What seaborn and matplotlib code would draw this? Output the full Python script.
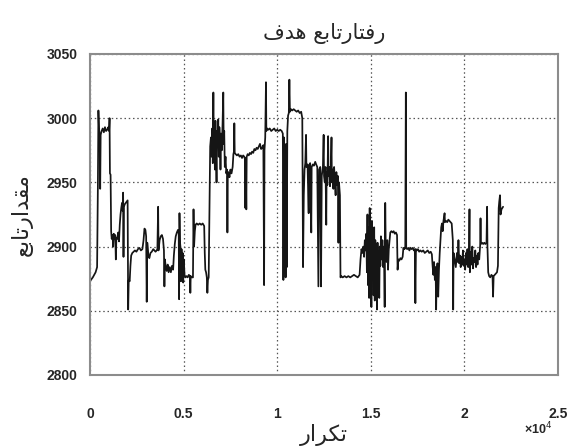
import matplotlib
matplotlib.use("Agg")
import matplotlib.pyplot as plt
import seaborn as sns
import pandas as pd

# objective value per iteration
iterations = [
    0, 150, 300, 380, 420, 450, 480, 520, 545, 570, 620, 680, 740, 800, 860, 920, 980, 1020,
    1045, 1065, 1100, 1130, 1160, 1200, 1240, 1270, 1310, 1350, 1380, 1410, 1460, 1510, 1550,
    1590, 1630, 1670, 1710, 1740, 1770, 1790, 1810, 1860, 1910, 1960, 2010, 2040, 2070, 2120,
    2160, 2200, 2260, 2330, 2400, 2480, 2560, 2640, 2720, 2800, 2860, 2910, 2960, 3000, 3030,
    3060, 3120, 3170, 3230, 3300, 3380, 3440, 3500, 3560, 3600, 3640, 3660, 3720, 3780, 3840,
    3900, 3950, 3975, 4000, 4050, 4100, 4150, 4200, 4260, 4320, 4380, 4440, 4480, 4530, 4580,
    4640, 4700, 4740, 4760, 4780, 4800, 4830, 4860, 4890, 4920, 4950, 4980, 5010, 5050, 5100,
    5160, 5220, 5280, 5340, 5360, 5380, 5440, 5500, 5530, 5560, 5600, 5640, 5700, 5780, 5860,
    5940, 6020, 6100, 6130, 6160, 6200, 6240, 6270, 6300, 6340, 6380, 6420,
    6460, 6500, 6530, 6560, 6590, 6610, 6640, 6670, 6700, 6730, 6760, 6790, 6820, 6850, 6880,
    6910, 6940, 6970, 7000, 7040, 7080, 7120, 7140, 7170, 7200, 7240, 7280, 7320, 7340, 7360,
    7400, 7450, 7500, 7560, 7620, 7660, 7690, 7710, 7730, 7780, 7850, 7920, 7990, 8060, 8120,
    8180, 8240, 8280, 8300, 8320, 8350, 8370, 8420, 8480, 8540, 8600, 8660, 8720, 8780, 8840,
    8900, 8960, 9020, 9080, 9140, 9200, 9260, 9300, 9320, 9360, 9400, 9420, 9460, 9520, 9600,
    9680, 9760, 9840, 9920, 10000, 10080, 10160, 10240, 10300, 10330, 10360, 10390, 10420,
    10450, 10480, 10510, 10540, 10580, 10620, 10650, 10680, 10740, 10800, 10880, 10960, 11040,
    11120, 11200, 11280, 11340, 11380, 11420, 11460, 11500, 11540, 11560, 11620, 11680, 11700,
    11760, 11820, 11840, 11900, 11960, 12030, 12080, 12140, 12200, 12240, 12300, 12340, 12380,
    12440, 12480, 12500, 12540, 12580, 12620, 12640, 12680, 12720, 12740, 12780, 12820, 12860,
    12900, 12920, 12960, 13000, 13040, 13080, 13120, 13160, 13200, 13240, 13270, 13300, 13350,
    13380,
    13420, 13500, 13600, 13700, 13800, 13900, 14000, 14100, 14200, 14300, 14400, 14450, 14500,
    14560, 14600, 14640, 14680, 14720, 14760, 14790, 14820, 14850, 14880, 14910, 14940, 14970,
    15000, 15030, 15060, 15090, 15120, 15150, 15180, 15210, 15240, 15270, 15300, 15330, 15360,
    15390, 15420, 15450, 15480, 15510, 15540, 15580, 15620, 15660, 15700, 15740, 15770, 15800,
    15840, 15880, 15920, 15960, 16000, 16040, 16100, 16160, 16220, 16280, 16340, 16400, 16430,
    16470, 16520, 16580, 16640, 16700, 16740, 16800, 16840, 16870, 16890, 16940, 17000, 17060,
    17120, 17180, 17240, 17300, 17350, 17380, 17410, 17460, 17520, 17580, 17650, 17720, 17800,
    17880, 17960, 18040, 18120, 18200, 18260, 18300, 18340, 18380, 18420, 18460, 18490, 18520,
    18560, 18600, 18640, 18680, 18720, 18760, 18800, 18840, 18880, 18940, 18960, 19020, 19080,
    19140, 19200, 19260, 19320, 19380, 19400, 19420, 19480, 19540, 19600, 19640, 19680, 19720,
    19760, 19800, 19840, 19880, 19920, 19960, 20000, 20040, 20080, 20120, 20160, 20200, 20240,
    20270, 20290, 20330, 20380, 20420, 20460, 20500, 20540, 20580, 20620, 20660, 20700, 20740,
    20790, 20840, 20860, 20880, 20940, 21000, 21060, 21120, 21180, 21210, 21230, 21270, 21320,
    21380, 21440, 21500, 21530, 21560, 21620, 21680, 21740, 21790, 21830, 21860, 21900, 21930,
    21980, 22020, 22065,
]

objective = [
    2873, 2876, 2880, 2884, 2945, 3006, 2992, 2986, 2945, 2987, 2990, 2992, 2989, 2993, 2990, 2991, 2993, 2990,
    3000, 2957, 2956, 2912, 2906, 2909, 2900, 2910, 2906, 2909, 2890, 2907, 2906, 2911, 2904,
    2917, 2925, 2930, 2934, 2928, 2942, 2892, 2931, 2933, 2934, 2935, 2936, 2851, 2874, 2873,
    2885, 2893, 2895, 2896, 2897, 2896, 2898, 2899, 2897, 2898, 2905, 2914, 2913, 2908, 2857,
    2903, 2893, 2891, 2895, 2896, 2898, 2897, 2896, 2897, 2898, 2931, 2897, 2905, 2908, 2909,
    2906, 2897, 2869, 2890, 2884, 2881, 2886, 2880, 2884, 2880, 2885, 2882, 2893, 2902, 2908,
    2911, 2913, 2910, 2859, 2926, 2905, 2900, 2873, 2898, 2876, 2895, 2872, 2890, 2878, 2876,
    2877, 2876, 2878, 2877, 2864, 2877, 2876, 2876, 2929, 2900, 2912, 2917, 2918, 2917, 2918,
    2917, 2918, 2916, 2895, 2882, 2880, 2876, 2864, 2874, 2876, 2930, 2978,
    2985, 2970, 2992, 2965, 3020, 2978, 2990, 2960, 2998, 2975, 2950, 2990, 2982, 2999, 2970,
    2993, 2985, 2960, 2988, 2975, 2995, 3020, 2980, 2990, 2962, 2970, 2957, 2960, 2911, 2955,
    2958, 2954, 2960, 2957, 2962, 2972, 2974, 2996, 2973, 2972, 2971, 2972, 2970, 2971, 2969,
    2971, 2970, 2968, 2930, 2969, 2929, 2970, 2972, 2971, 2973, 2972, 2974, 2973, 2976, 2975,
    2977, 2976, 2978, 2980, 2976, 2977, 2979, 2870, 2975, 2985, 3028, 2990, 2992, 2991, 2992,
    2990, 2991, 2992, 2990, 2991, 2990, 2991, 2990, 2988, 2874, 2985, 2880, 2975,
    2876, 2980, 2884, 2990, 3002, 3004, 3030, 3005, 3007, 3006, 3007, 3006, 3005,
    3006, 3004, 3005, 3000, 2884, 2940, 2960, 2965, 2987, 2962, 2964, 2926, 2963,
    2965, 2911, 2962, 2964, 2963, 2966, 2964, 2962, 2869, 2960, 2962, 2869, 2955,
    2962, 2987, 2955, 2950, 2962, 2917, 2958, 2948, 2986, 2955, 2962, 2947, 2958,
    2985, 2950, 2960, 2945, 2962, 2950, 2940, 2958, 2948, 2955, 2903, 2950, 2940,
    2876,
    2877, 2876, 2877, 2876, 2877, 2876, 2877, 2878, 2877, 2876, 2878, 2890, 2898,
    2895, 2900, 2892, 2905, 2897, 2910, 2880, 2925, 2870, 2915, 2860, 2930, 2875,
    2910, 2853, 2920, 2880, 2900, 2862, 2915, 2858, 2905, 2875, 2898, 2851, 2903,
    2870, 2895, 2860, 2900, 2885, 2908, 2890, 2905, 2884, 2900, 2853, 2934, 2895,
    2888, 2905, 2882, 2898, 2905, 2911, 2912, 2911, 2912, 2910, 2911, 2909, 2882,
    2890, 2889, 2891, 2890, 2892, 2899, 2898, 2900, 3020, 2899, 2898, 2899, 2897,
    2899, 2898, 2899, 2897, 2898, 2856, 2898, 2897, 2898, 2896, 2897, 2896, 2897,
    2895, 2896, 2897, 2895, 2896, 2894, 2885, 2878, 2888, 2874, 2884, 2851, 2880,
    2887, 2861, 2882, 2895, 2905, 2915, 2918, 2912, 2920, 2926, 2919, 2920, 2919,
    2921, 2920, 2919, 2918, 2905, 2851, 2895, 2890, 2884, 2895, 2888, 2905, 2887,
    2893, 2884, 2892, 2886, 2897, 2885, 2890, 2882, 2895, 2886, 2898, 2884, 2890,
    2929, 2880, 2896, 2886, 2900, 2883, 2891, 2888, 2897, 2884, 2893, 2886, 2895,
    2890, 2901, 2922, 2902, 2903, 2902, 2903, 2902, 2903, 2931, 2900, 2880, 2877,
    2876, 2878, 2877, 2861, 2877, 2878, 2879, 2880, 2885, 2930, 2935, 2940, 2925,
    2929, 2930, 2931,
]

x_ticks = [0, 5000, 10000, 15000, 20000, 25000]
x_tick_labels = ["0", "0.5", "1", "1.5", "2", "2.5"]
y_ticks = [2800, 2850, 2900, 2950, 3000, 3050]

# Persian labels written in shaped presentation forms, visual (left-to-right) order
title_text = "\ufed1\ufeaa\ufeeb \ufeca\ufe91\ufe8e\ufe97\ufead\ufe8e\ufe98\ufed3\ufead"   # رفتارتابع هدف
ylabel_text = "\ufeca\ufe91\ufe8e\ufe97\ufead\ufe8d\ufeaa\ufed8\ufee3"                      # مقدارتابع
xlabel_text = "\ufead\ufe8d\ufeae\ufb91\ufe97"                                              # تکرار

df = pd.DataFrame({"iteration": iterations, "value": objective})

sns.set_style("white")
plt.rcParams["font.family"] = ["Liberation Sans", "DejaVu Sans"]

fig = plt.figure(figsize=(5.75, 4.48), dpi=100)
ax = fig.add_axes([0.1565, 0.163, 0.814, 0.7165])

sns.lineplot(data=df, x="iteration", y="value", estimator=None, sort=False,
             color="#151515", linewidth=1.25, ax=ax)

ax.set_xlim(0, 25000)
ax.set_ylim(2800, 3050)
ax.set_xticks(x_ticks)
ax.set_xticklabels(x_tick_labels)
ax.set_yticks(y_ticks)
ax.tick_params(axis="both", length=0, labelsize=10)
ax.tick_params(axis="x", pad=23)
ax.tick_params(axis="y", pad=9)
for lab in ax.get_xticklabels() + ax.get_yticklabels():
    lab.set_fontweight("bold")

ax.grid(True, color="#555555", linestyle=(0, (1.2, 2.2)), linewidth=0.9)
for sp in ax.spines.values():
    sp.set_color("#8c8c8c")
    sp.set_linewidth(1.5)

ax.set_title(title_text, family=["DejaVu Sans"], fontsize=15, pad=11)
ax.set_xlabel(xlabel_text, family=["DejaVu Sans"], fontsize=16, labelpad=2)
ax.set_ylabel(ylabel_text, family=["DejaVu Sans"], fontsize=16, labelpad=10)

fig.text(0.912, 0.025, "\u00d710$^{4}$", fontsize=9, fontweight="bold", ha="left", va="bottom")

fig.savefig("out.png", dpi=100)
